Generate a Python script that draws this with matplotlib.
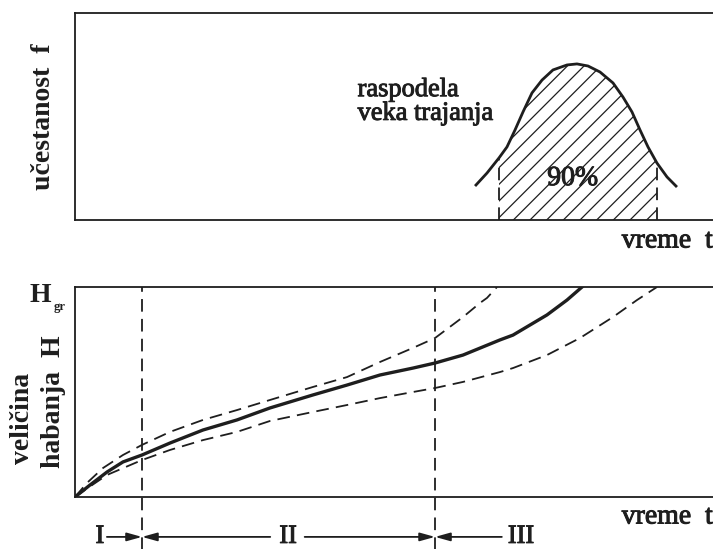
import numpy as np
import matplotlib.pyplot as plt
import matplotlib.patheffects as pe

plt.rcParams['font.family'] = 'Liberation Serif'
plt.rcParams['hatch.linewidth'] = 0.9

# top panel: lifetime distribution (t in %, f relative)
bell_t = [62.85, 64.58, 66.46, 67.71, 68.97, 70.22, 71.63, 73.20, 74.92, 77.12, 78.68,
          80.41, 82.29, 84.33, 85.89, 87.30, 88.56, 89.81, 91.22, 92.79, 94.20]
bell_f = [0.169, 0.227, 0.300, 0.353, 0.435, 0.522, 0.614, 0.676, 0.725, 0.749, 0.754,
          0.744, 0.715, 0.662, 0.594, 0.522, 0.435, 0.353, 0.275, 0.208, 0.164]
t_lo, t_hi = 66.46, 91.22

# bottom panel: wear curves (H relative to H_gr)
mid_t = [0, 2.35, 5.02, 7.52, 10.50, 14.89, 20.06, 25.39, 30.56, 37.30, 42.63, 47.81,
         52.98, 56.43, 60.82, 66.61, 68.65, 73.98, 77.12, 79.47]
mid_h = [0, 0.057, 0.119, 0.167, 0.200, 0.257, 0.319, 0.367, 0.424, 0.486, 0.533, 0.581,
         0.614, 0.638, 0.676, 0.748, 0.771, 0.867, 0.938, 1.0]
up_t = [0, 1.88, 4.39, 7.52, 10.50, 14.89, 20.06, 25.39, 30.56, 37.30, 42.63, 47.81,
        52.98, 56.43, 60.82, 63.48, 64.58, 66.14]
up_h = [0, 0.067, 0.138, 0.200, 0.248, 0.310, 0.367, 0.414, 0.462, 0.524, 0.571, 0.643,
        0.710, 0.757, 0.857, 0.924, 0.948, 1.0]
lo_t = [0, 2.35, 5.02, 10.50, 14.89, 20.06, 25.39, 30.56, 37.30, 42.63, 47.81, 52.98,
        56.43, 60.82, 66.61, 68.65, 73.98, 79.15, 84.33, 88.09, 91.22]
lo_h = [0, 0.050, 0.105, 0.176, 0.224, 0.271, 0.310, 0.362, 0.405, 0.438, 0.471, 0.500,
        0.519, 0.548, 0.595, 0.614, 0.676, 0.757, 0.857, 0.938, 1.0]
t_I, t_II = 10.50, 56.43

ink = '#1e1e1e'
thick = [pe.withStroke(linewidth=0.7, foreground=ink)]
dash = (0, (7, 4))

fig = plt.figure(figsize=(7.13, 5.49), dpi=100)

# ---- top panel
ax1 = fig.add_axes([75/713, 1-220/549, 1-75/713, 207/549])
ax1.set_xlim(0, 100)
ax1.set_ylim(0, 1)
bt = np.array(bell_t)
bf = np.array(bell_f)
m = (bt >= t_lo) & (bt <= t_hi)
ax1.fill_between(bt[m], 0, bf[m], facecolor='none', edgecolor=ink, hatch='//', linewidth=0)
ax1.plot(bt, bf, color=ink, lw=2.0)
for tv in (t_lo, t_hi):
    ax1.plot([tv, tv], [0, np.interp(tv, bt, bf)], color=ink, lw=1.3, ls=dash)
ax1.text(78.0, 0.20, '90%', fontsize=20, ha='center', va='center', color=ink,
         path_effects=thick)
ax1.text(44.3, 0.57, 'raspodela\nveka trajanja', fontsize=19, ha='left', va='center',
         linespacing=1.1, color=ink, path_effects=thick)
ax1.set_xticks([])
ax1.set_yticks([])
ax1.spines['right'].set_visible(False)
for s in ('top', 'left', 'bottom'):
    ax1.spines[s].set_linewidth(1.3)
    ax1.spines[s].set_color(ink)
fig.text(44/713, 1-117/549, 'učestanost  f', rotation=90, fontsize=20, fontweight='bold',
         ha='center', va='center', color=ink)
fig.text(1.0, 1-241/549, 'vreme  t', fontsize=20, ha='right', va='center', color=ink,
         path_effects=thick)

# ---- bottom panel
ax2 = fig.add_axes([75/713, 1-497/549, 1-75/713, 210/549])
ax2.set_xlim(0, 100)
ax2.set_ylim(0, 1)
ax2.plot(up_t, up_h, color=ink, lw=1.3, ls=dash)
ax2.plot(lo_t, lo_h, color=ink, lw=1.3, ls=dash)
ax2.plot(mid_t, mid_h, color=ink, lw=2.4)
for tv in (t_I, t_II):
    ax2.plot([tv, tv], [-0.26, 1], color=ink, lw=1.3, ls=dash, clip_on=False)
ax2.set_xticks([])
ax2.set_yticks([])
ax2.spines['right'].set_visible(False)
for s in ('top', 'left', 'bottom'):
    ax2.spines[s].set_linewidth(1.3)
    ax2.spines[s].set_color(ink)

# phase arrows below the axis
ya = -0.19
arr = dict(arrowstyle='-|>,head_length=0.9,head_width=0.25', color=ink, lw=1.3,
           shrinkA=0, shrinkB=0)
ax2.text(3.9, ya, 'I', fontsize=19, ha='center', va='center', color=ink, path_effects=thick)
ax2.annotate('', xy=(t_I, ya), xytext=(5.0, ya), arrowprops=arr, annotation_clip=False)
ax2.text(33.4, ya, 'II', fontsize=19, ha='center', va='center', color=ink, path_effects=thick)
ax2.annotate('', xy=(t_I, ya), xytext=(30.6, ya), arrowprops=arr, annotation_clip=False)
ax2.annotate('', xy=(t_II, ya), xytext=(36.0, ya), arrowprops=arr, annotation_clip=False)
ax2.text(69.9, ya, 'III', fontsize=19, ha='center', va='center', color=ink, path_effects=thick)
ax2.annotate('', xy=(t_II, ya), xytext=(66.9, ya), arrowprops=arr, annotation_clip=False)

fig.text(1.0, 1-517/549, 'vreme  t', fontsize=20, ha='right', va='center', color=ink,
         path_effects=thick)
fig.text(30/713, 1-295/549, 'H', fontsize=20, fontweight='bold', ha='left', va='center',
         color=ink)
fig.text(54/713, 1-307/549, 'gr', fontsize=9, fontweight='bold', ha='left', va='center',
         color=ink)
fig.text(23/713, 1-418/549, 'veličina', rotation=90, fontsize=20, fontweight='bold',
         ha='center', va='center', color=ink)
fig.text(53/713, 1-402/549, 'habanja  H', rotation=90, fontsize=20, fontweight='bold',
         ha='center', va='center', color=ink)

fig.savefig('out.png', dpi=100)
